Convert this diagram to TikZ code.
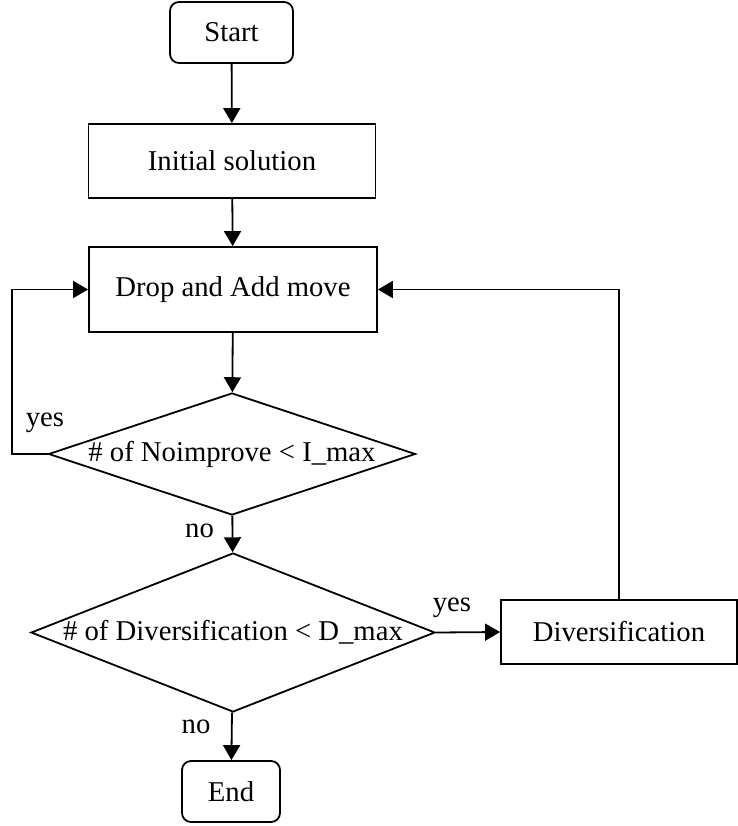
\documentclass[tikz,border=0pt]{standalone}
\usepackage{fontspec}
\setmainfont{Liberation Serif}
\usetikzlibrary{shapes.geometric,arrows.meta}
\begin{document}
\begin{tikzpicture}[x=0.5pt,y=-0.5pt,
  line width=0.9pt,
  font=\fontsize{14.35}{17}\selectfont,
  box/.style={draw, rectangle, inner sep=0pt},
  term/.style={box, rounded corners=4.5pt},
  dia/.style={draw, diamond, inner sep=0pt},
  arr/.style={-{Triangle[length=7.5pt,width=8.5pt]}},
  lbl/.style={inner sep=0pt}]
\useasboundingbox (0,0) rectangle (738,826);

\node[term, minimum width=61.5pt, minimum height=30.5pt] (start) at (231.5,32.5) {Start};
\node[box, minimum width=143.5pt, minimum height=37pt] (init) at (232,161) {Initial solution};
\node[box, minimum width=144pt, minimum height=42.5pt] (drop) at (233,289.5) {Drop and Add move};
\node[dia, minimum width=183.5pt, minimum height=61pt] (d1) at (232,454) {\makebox[0pt]{\# of Noimprove < I\_max}};
\node[dia, minimum width=202pt, minimum height=79.5pt] (d2) at (233,632.5) {\makebox[0pt]{\# of Diversification < D\_max}};
\node[box, minimum width=118pt, minimum height=32pt] (div) at (619,632) {Diversification};
\node[term, minimum width=49pt, minimum height=30.5pt] (end) at (231,791.5) {End};

\draw[arr] (start) -- (init);
\draw[arr] (init) -- (drop);
\draw[arr] (drop) -- (d1);
\draw[arr] (d1) -- (d2);
\draw[arr] (d2) -- (end);
\draw[arr] (d1.west) -- ++(-36,0) |- (drop.west);
\draw[arr] (d2.east) -- (div.west);
\draw[arr] (div.north) |- (drop.east);

\node[lbl] (yes1) at (45,423) {yes};
\node[lbl] (no1) at (199.5,531) {no};
\node[lbl] (yes2) at (452,608) {yes};
\node[lbl] (no2) at (196,727) {no};
\end{tikzpicture}
\end{document}
